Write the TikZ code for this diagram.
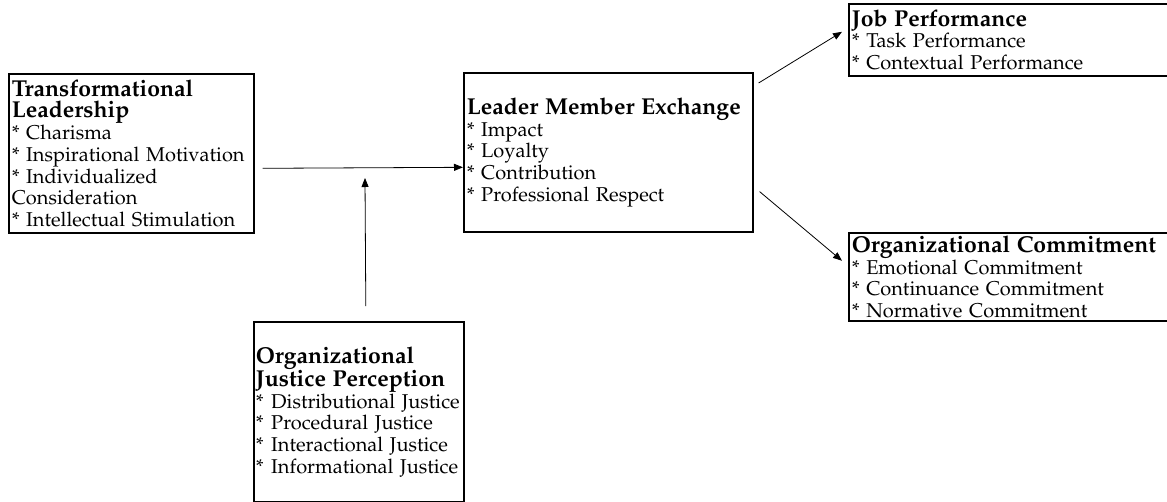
\documentclass[tikz,border=0pt]{standalone}
\usepackage[T1]{fontenc}
\renewcommand{\rmdefault}{ppl}
\usetikzlibrary{arrows.meta}
\newcommand{\headtxt}[1]{{\fontsize{23}{21.7}\selectfont\bfseries #1}}
\tikzset{
  box/.style= {draw, line width=1.6pt, anchor=north west, align=left,
    inner xsep=3pt, inner ysep=0pt, font=\fontsize{20}{21.7}\selectfont},
  link/.style= {-{Triangle[length=9pt,width=7pt]}, line width=0.8pt},
}

\begin{document}
\begin{tikzpicture}[x=1pt, y=-1pt]
  \useasboundingbox (0,0) rectangle (1167,501);
  \node [box, minimum width=245, minimum height=159, text width=239] (tl) at (8,73)
    {\headtxt{Transformational}\\ \headtxt{Leadership}\\ {*} Charisma\\ {*} Inspirational Motivation\\
     {*} Individualized\\ Consideration\\ {*} Intellectual Stimulation} ;
  \node [box, minimum width=289, minimum height=159, text width=283] (lmx) at (463,72)
    {\headtxt{Leader Member Exchange}\\ {*} Impact\\ {*} Loyalty\\ {*} Contribution\\ {*} Professional Respect} ;
  \node [box, minimum width=322, minimum height=72, text width=316] (jp) at (848,3)
    {\headtxt{Job Performance}\\ {*} Task Performance\\ {*} Contextual Performance} ;
  \node [box, minimum width=322, minimum height=88, text width=316] (oc) at (848,232)
    {\headtxt{Organizational Commitment}\\ {*} Emotional Commitment\\ {*} Continuance Commitment\\ {*} Normative Commitment} ;
  \node [box, minimum width=210, minimum height=180, text width=206, inner xsep=2pt] (ojp) at (253,321)
    {\headtxt{Organizational}\\ \headtxt{Justice Perception}\\ \mbox{{*}~\kern1pt Distributional Justice}\\
     {*}~\kern1pt Procedural Justice\\ {*}~\kern1pt Interactional Justice\\ \mbox{{*}~\kern1pt Informational Justice}} ;
  \coordinate (mod) at (365,178) ;

  \draw [link] ([shift={(8,15)}]tl.east) -- ([shift={(0,15)}]lmx.west) ;
  \draw [link] ([shift={(7,-15)}]ojp.north) -- (mod) ;
  \draw [link] ([shift={(5,11)}]lmx.north east) -- ([shift={(-6,-8)}]jp.west) ;
  \draw [link] ([shift={(6,-41)}]lmx.south east) -- ([shift={(-6,-16)}]oc.west) ;
\end{tikzpicture}
\end{document}
